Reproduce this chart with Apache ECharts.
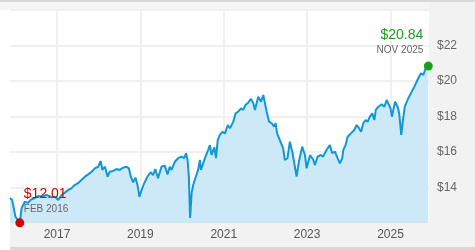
<!DOCTYPE html>
<html><head><meta charset="utf-8">
<script src="https://cdn.jsdelivr.net/npm/echarts@6/dist/echarts.min.js"></script>
<style>html,body{margin:0;padding:0;background:#fff}#c{width:475px;height:250px}</style>
</head><body><div id="c"></div>
<script>
const dates = ["2015-11-16","2015-12-05","2016-01-03","2016-01-18","2016-02-10","2016-02-25","2016-03-25","2016-04-20","2016-05-15","2016-06-20",
"2016-07-20","2016-08-20","2016-10-01","2016-11-15","2016-12-15","2017-01-12","2017-02-10","2017-03-10","2017-04-08","2017-05-06",
"2017-06-05","2017-07-04","2017-08-03","2017-09-02","2017-10-01","2017-11-01","2017-11-28","2017-12-28","2018-01-18","2018-02-02",
"2018-02-25","2018-03-20","2018-04-08","2018-05-07","2018-06-06","2018-07-05","2018-08-03","2018-09-02","2018-09-22","2018-10-10",
"2018-10-30","2018-11-20","2018-12-07","2018-12-24","2019-01-12","2019-02-04","2019-03-04","2019-04-02","2019-04-22","2019-05-12",
"2019-06-05","2019-07-05","2019-08-03","2019-08-27","2019-09-16","2019-10-01","2019-10-30","2019-11-28","2019-12-28","2020-01-20",
"2020-02-05","2020-02-19","2020-03-01","2020-03-12","2020-03-25","2020-04-08","2020-04-22","2020-05-07","2020-05-21","2020-06-06",
"2020-06-15","2020-07-04","2020-07-25","2020-08-17","2020-09-01","2020-09-16","2020-10-10","2020-10-25","2020-11-09","2020-11-28",
"2020-12-19","2021-01-12","2021-02-05","2021-02-25","2021-03-25","2021-04-15","2021-05-07","2021-06-01","2021-06-20","2021-07-10",
"2021-08-03","2021-08-27","2021-09-17","2021-10-01","2021-10-30","2021-11-23","2021-12-13","2021-12-28","2022-01-12","2022-02-02",
"2022-02-25","2022-03-18","2022-03-31","2022-04-13","2022-05-06","2022-05-21","2022-06-05","2022-06-20","2022-07-13","2022-08-03",
"2022-08-24","2022-09-16","2022-10-01","2022-10-21","2022-11-19","2022-12-13","2022-12-28","2023-01-27","2023-02-25","2023-03-10",
"2023-04-03","2023-05-01","2023-05-21","2023-06-20","2023-07-19","2023-08-09","2023-09-02","2023-09-25","2023-10-15","2023-11-05",
"2023-11-14","2023-12-04","2023-12-22","2024-01-20","2024-02-18","2024-03-10","2024-03-31","2024-04-18","2024-05-07","2024-05-28",
"2024-06-15","2024-07-04","2024-07-25","2024-08-12","2024-08-25","2024-09-16","2024-10-15","2024-11-08","2024-11-28","2024-12-13",
"2025-01-01","2025-01-13","2025-01-28","2025-02-10","2025-03-04","2025-03-18","2025-04-05","2025-04-18","2025-05-06","2025-06-06",
"2025-07-06","2025-07-28","2025-08-18","2025-09-08","2025-09-25","2025-10-15","2025-11-05","2025-11-28"];
const prices = [13.41,13.30,12.35,12.26,12.01,12.83,13.20,13.13,13.30,13.41,
13.52,13.48,13.58,13.45,13.48,13.30,13.58,13.71,13.86,13.95,
14.14,14.24,14.42,14.61,14.74,14.89,15.08,15.17,15.49,14.99,
15.17,14.61,14.89,14.93,15.04,14.99,15.12,15.17,15.08,14.61,
14.29,14.55,14.14,13.48,13.86,14.24,14.61,14.86,14.70,15.04,
14.52,15.17,15.23,14.74,15.17,14.99,15.45,15.65,15.74,15.65,
15.93,15.55,14.61,12.28,13.67,14.14,14.42,14.52,14.99,15.55,
14.99,15.36,15.74,16.11,16.39,15.83,16.26,15.65,16.68,16.96,
17.14,17.05,17.52,17.34,17.71,18.18,18.27,18.46,18.37,18.65,
18.78,18.99,18.74,18.37,19.12,18.83,19.21,18.74,18.27,17.71,
17.62,17.43,17.62,17.05,16.68,16.77,16.21,15.55,15.65,16.58,
16.02,15.17,14.61,15.45,16.30,15.83,15.08,15.83,15.55,15.27,
15.74,15.83,15.74,16.11,16.39,15.93,16.02,15.65,15.36,15.65,
16.11,16.39,16.86,17.05,17.24,17.52,17.34,17.14,17.62,17.80,
17.71,17.99,18.18,17.80,18.37,18.55,18.69,18.55,18.93,19.03,
18.46,17.99,18.46,18.83,18.55,18.18,16.96,17.71,18.55,19.03,
19.40,19.68,19.96,20.24,20.43,20.34,20.72,20.84];
const xTickDates = ["2017-01-01","2019-01-01","2021-01-01","2023-01-01","2025-01-01"];
const xRange = ["2015-11-16","2025-12-04"];
const yMin = 12, yMax = 24, yStep = 2;

const monthNames = ["JAN","FEB","MAR","APR","MAY","JUN","JUL","AUG","SEP","OCT","NOV","DEC"];
function ts(s){ return new Date(s + "T00:00:00Z").getTime(); }
const seriesData = dates.map((d,i)=>[ts(d), prices[i]]);
let minIdx = 0; prices.forEach((v,i)=>{ if (v < prices[minIdx]) minIdx = i; });
const lastIdx = prices.length - 1;
function dLabel(i){ const d = new Date(ts(dates[i])); return monthNames[d.getUTCMonth()] + " " + d.getUTCFullYear(); }

const chart = echarts.init(document.getElementById('c'), null, {renderer:'canvas'});
const FONT = 'Liberation Sans, Arial, sans-serif';
const tickVals = xTickDates.map(ts);
chart.setOption({
  animation: false,
  backgroundColor: '#ffffff',
  graphic: [
    {type:'rect', z:-10, shape:{x:0,y:0,width:475,height:2}, style:{fill:'#d8d8d8'}},
    {type:'rect', z:-10, shape:{x:0,y:2,width:475,height:8}, style:{fill:'#f5f5f5'}},
    {type:'rect', z:-10, shape:{x:429,y:2,width:46,height:248}, style:{fill:'#f2f2f2'}},
    {type:'rect', z:-10, shape:{x:10,y:223,width:465,height:25}, style:{fill:'#f2f2f2'}},
    {type:'rect', z:-10, shape:{x:10,y:247,width:465,height:3}, style:{fill:'#d8d8d8'}}
  ],
  grid: {left:10, right:46, top:10, bottom:27, containLabel:false},
  xAxis: {
    type:'value', min: ts(xRange[0]), max: ts(xRange[1]),
    axisLine:{show:false},
    axisTick:{show:false, customValues: tickVals},
    axisLabel:{customValues: tickVals, formatter: v => String(new Date(v).getUTCFullYear()),
      color:'#555', fontSize:12, fontFamily:FONT, margin:6},
    splitLine:{show:true, lineStyle:{color:'#f0f0f0', width:2}}
  },
  yAxis: {
    type:'value', position:'right', min:yMin, max:yMax, interval:yStep,
    axisLine:{show:false}, axisTick:{show:false},
    axisLabel:{formatter: v => (v===yMin||v===yMax) ? '' : '$' + v, color:'#666', fontSize:12, fontFamily:FONT, margin:8},
    splitLine:{show:true, lineStyle:{color:'#f0f0f0', width:2}}
  },
  series: [{
    type:'line', data: seriesData, showSymbol:false, symbol:'none',
    lineStyle:{color:'#0f97d8', width:2},
    areaStyle:{color:'#cde9f7', opacity:1},
    markPoint: {
      symbol:'circle', symbolSize:9,
      data: [
        {coord: seriesData[minIdx], itemStyle:{color:'#d40000'},
         label:{show:true, position:[8.5,-32], align:'left', verticalAlign:'top',
           formatter: '{a|$' + prices[minIdx].toFixed(2) + '}\n{b|' + dLabel(minIdx) + '}',
           rich:{a:{color:'#d40000', fontSize:14, fontFamily:FONT, lineHeight:16},
                 b:{color:'#666', fontSize:10, fontFamily:FONT, lineHeight:13}}}},
        {coord: seriesData[lastIdx], itemStyle:{color:'#1a9e1a'},
         label:{show:true, position:[-0.5,-34.5], align:'right', verticalAlign:'top',
           formatter: '{a|$' + prices[lastIdx].toFixed(2) + '}\n{b|' + dLabel(lastIdx) + '}',
           rich:{a:{color:'#1a9e1a', fontSize:14, fontFamily:FONT, lineHeight:16, align:'right'},
                 b:{color:'#666', fontSize:10, fontFamily:FONT, lineHeight:14, align:'right'}}}}
      ]
    }
  }]
});
</script></body></html>
